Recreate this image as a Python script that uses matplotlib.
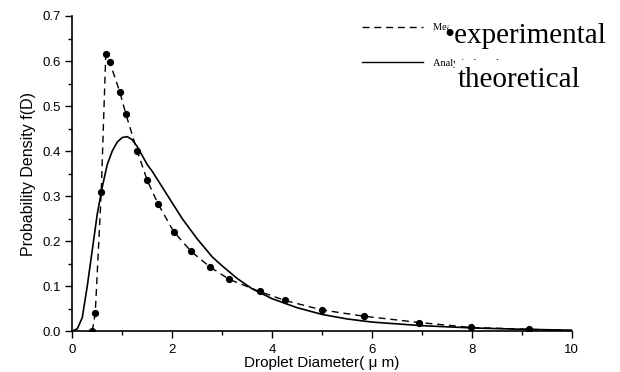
import matplotlib
matplotlib.use("Agg")
from matplotlib import pyplot as plt
from matplotlib.patches import Rectangle

# measured droplet size distribution (dots + dashed line)
meas_x = [0.40, 0.46, 0.58, 0.67, 0.75, 0.95, 1.07, 1.30, 1.50, 1.72, 2.03,
          2.38, 2.75, 3.14, 3.75, 4.26, 5.00, 5.84, 6.95, 7.98, 9.15]
meas_y = [0.000, 0.040, 0.310, 0.615, 0.597, 0.532, 0.483, 0.400, 0.335, 0.282, 0.221,
          0.177, 0.143, 0.115, 0.088, 0.068, 0.047, 0.033, 0.019, 0.008, 0.004]
# dashed curve runs on to the axis end
meas_tail_x = [10.0]
meas_tail_y = [0.001]

# analytical curve (solid)
theo_x = [0.0, 0.1, 0.2, 0.3, 0.4, 0.5, 0.6, 0.7, 0.8, 0.9, 1.0, 1.1, 1.2, 1.3,
          1.4, 1.5, 1.6, 1.8, 2.0, 2.2, 2.5, 2.8, 3.0, 3.3, 3.6, 4.0, 4.5, 5.0,
          5.5, 6.0, 7.0, 8.0, 9.0, 10.0]
theo_y = [0.0, 0.005, 0.03, 0.10, 0.18, 0.26, 0.32, 0.37, 0.40, 0.42, 0.43, 0.432,
          0.425, 0.41, 0.39, 0.37, 0.355, 0.32, 0.285, 0.25, 0.205, 0.165, 0.145,
          0.117, 0.094, 0.072, 0.052, 0.037, 0.027, 0.020, 0.012, 0.007, 0.004, 0.002]

x_ticks = [0, 2, 4, 6, 8, 10]
y_ticks = [0.0, 0.1, 0.2, 0.3, 0.4, 0.5, 0.6, 0.7]

plt.rcParams['font.family'] = ['Liberation Sans', 'DejaVu Sans']

fig = plt.figure(figsize=(6.2, 3.72), dpi=100)
ax = fig.add_axes([0.1166, 0.110, 0.8055, 0.847])

ax.plot(meas_x + meas_tail_x, meas_y + meas_tail_y, color="black", lw=1.0,
        dashes=(5, 3.5))
ax.plot(meas_x, meas_y, "o", color="black", ms=4.2, ls="none")
ax.plot(theo_x, theo_y, color="black", lw=1.2)

ax.set_xlim(0, 10)
ax.set_ylim(0, 0.7)
ax.set_xticks(x_ticks)
ax.set_xticks(range(0, 11), minor=True)
ax.set_yticks(y_ticks)
ax.set_yticks([i * 0.05 for i in range(15)], minor=True)
ax.set_yticklabels(["%.1f" % v for v in y_ticks])
ax.tick_params(which="major", direction="out", length=5, width=1, labelsize=9.5)
ax.tick_params(axis="x", which="major", pad=4)
ax.tick_params(axis="y", which="major", pad=3)
ax.tick_params(which="minor", direction="out", length=3, width=1)
ax.spines["top"].set_visible(False)
ax.spines["right"].set_visible(False)
for s in ["left", "bottom"]:
    ax.spines[s].set_linewidth(1.2)

ax.set_xlabel("Droplet Diameter( \u03bc m)", fontsize=11, labelpad=0)
ax.set_ylabel("Probability Density f(D)", fontsize=11.5, labelpad=5)

# legend, as drawn in the original (pixel positions converted to axes fractions)
def ax_pt(px, py):
    return ((px - 72.3) / 499.4, (331 - py) / 315.0)

for py, style in [(27, "--"), (62, "-")]:
    (x0, y0), (x1, _) = ax_pt(362, py), ax_pt(423, py)
    ax.plot([x0, x1], [y0, y0], style, color="black", lw=1.0,
            transform=ax.transAxes, clip_on=False,
            dashes=(5, 3.5) if style == "--" else (None, None))

for py, label in [(28, "Measured data"), (63, "Analytical results")]:
    tx, ty = ax_pt(433, py)
    ax.text(tx, ty, label, transform=ax.transAxes, fontsize=7.5,
            family="Liberation Serif", va="center", ha="left", zorder=3)

# white patches pasted over the old legend text
for (px0, py0, px1, py1) in [(449, 14, 612, 54), (455, 60, 600, 95)]:
    (x0, y1), (x1, y0) = ax_pt(px0, py0), ax_pt(px1, py1)
    ax.add_patch(Rectangle((x0, y0), x1 - x0, y1 - y0, transform=ax.transAxes,
                           facecolor="white", edgecolor="none", clip_on=False, zorder=3.5))

tx, ty = ax_pt(444, 43)
ax.text(tx, ty, "\u2022experimental", transform=ax.transAxes, fontsize=21,
        family="Liberation Serif", va="baseline", ha="left", zorder=4)
tx, ty = ax_pt(458, 87)
ax.text(tx, ty, "theoretical", transform=ax.transAxes, fontsize=21,
        family="Liberation Serif", va="baseline", ha="left", zorder=4)

fig.savefig("out.png", dpi=100)
